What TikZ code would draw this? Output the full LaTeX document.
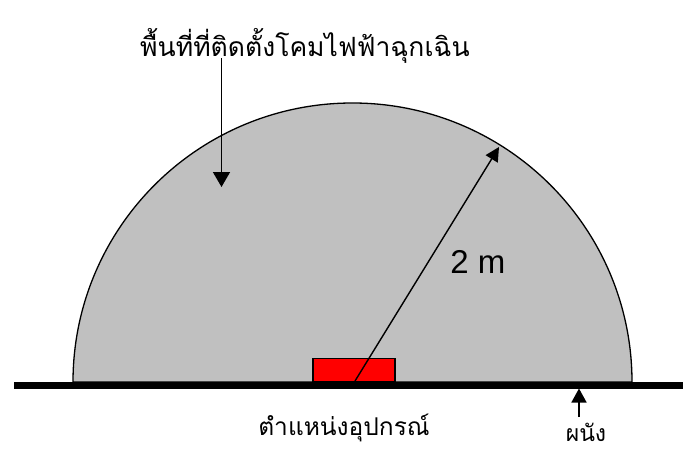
\documentclass[tikz,border=0pt]{standalone}
\usepackage{fontspec}
\setmainfont{Liberation Sans}
\newfontfamily\thaifont[Script=Thai]{Loma}
\usetikzlibrary{arrows.meta}
\definecolor{domegray}{HTML}{C0C0C0}
\definecolor{devred}{HTML}{FF0000}
\tikzset{
  thailabel/.style={font=\thaifont, inner sep=0pt, anchor=base},
  pointer/.style={line width=1.6pt, -{Triangle[length=15pt,width=17pt]}},
  smallpointer/.style={line width=1.6pt, -{Triangle[length=14pt,width=15pt]}},
}
\begin{document}
\begin{tikzpicture}[x=1pt,y=-1pt]
\useasboundingbox (0,0) rectangle (683,450);
% dome
\draw[fill=domegray, line width=1.3pt] (73,382) arc[start angle=180, end angle=0, x radius=279.5, y radius=-279] -- cycle;
% device
\node[draw=black, fill=devred, line width=1.3pt, minimum width=82pt, minimum height=23pt, inner sep=0pt, anchor=south] (dev) at (354,382) {};
% wall
\draw[line width=7pt] (14,385) -- (683,385) coordinate (wallend);
% radius arrow
\coordinate (rstart) at (355,381);
\coordinate (rtip) at (499,147);
\draw[line width=1.4pt, -{Triangle[length=14pt,width=14pt]}] (rstart) -- (rtip);
\node[font=\fontsize{33}{33}\selectfont, anchor=base] (rlabel) at (478,273) {2 m};
% top label
\node[thailabel, font=\thaifont\fontsize{26.5}{26.5}\selectfont] (toplabel) at (305,56) {พื้นที่ที่ติดตั้งโคมไฟฟ้าฉุกเฉิน};
\coordinate (topstart) at (221.5,58);
\coordinate (topend) at (221.5,187);
\draw[pointer] (topstart) -- (topend);
% device label
\node[thailabel, font=\thaifont\fontsize{24.5}{24.5}\selectfont] (devlabel) at (344,435) {ตำแหน่งอุปกรณ์};
% wall label
\node[thailabel, font=\thaifont\fontsize{23}{23}\selectfont] (walllabel) at (586,441) {ผนัง};
\coordinate (wallarrowstart) at (579,417);
\coordinate (wallarrowtip) at (579,388.5);
\draw[smallpointer] (wallarrowstart) -- (wallarrowtip);
\end{tikzpicture}
\end{document}
